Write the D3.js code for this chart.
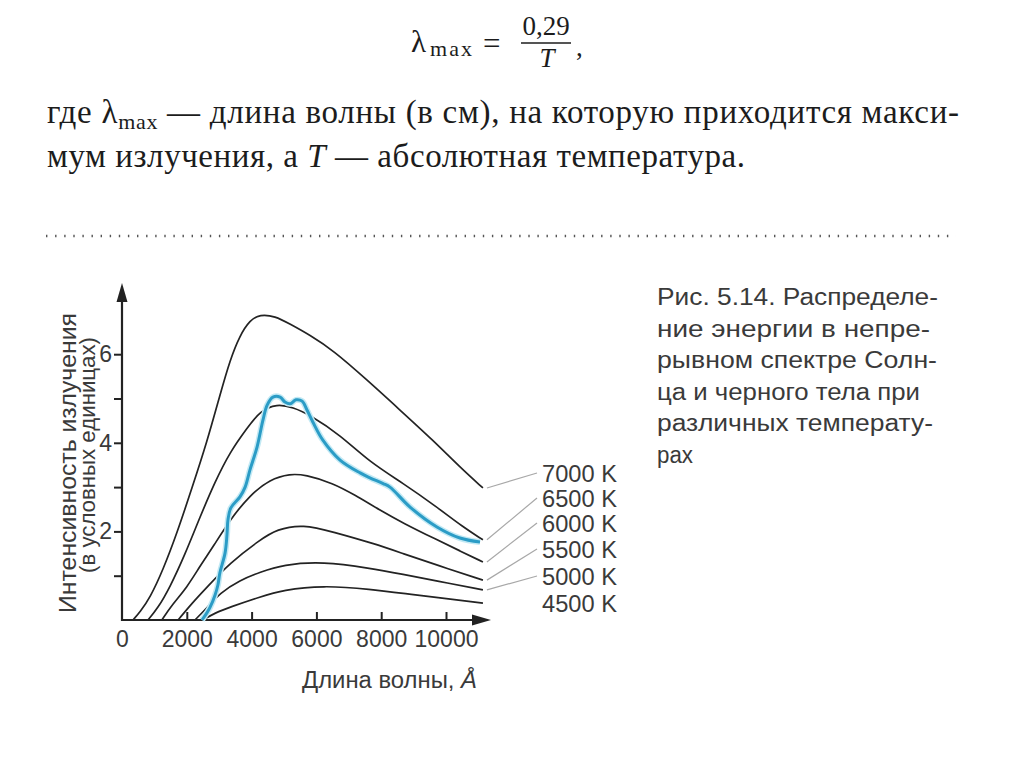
<!DOCTYPE html>
<html>
<head>
<meta charset="utf-8">
<script src="https://cdn.jsdelivr.net/npm/d3@7"></script>
<style>
body { margin: 0; background: #fff; }
svg { display: block; }
.serif { font-family: "Liberation Serif", "Times New Roman", serif; fill: #1c1c1c; }
.sans { font-family: "Liberation Sans", Arial, sans-serif; fill: #3a3a3a; }
</style>
</head>
<body>
<svg id="page" width="1024" height="767"></svg>
<script>
// --- данные (длина волны в Å, интенсивность в усл. ед.)
const temps = ["7000 K", "6500 K", "6000 K", "5500 K", "5000 K", "4500 K"];

const t7000 = [[340,0],[555,0.18],[864,0.5],[1265,1.13],[1697,1.96],[2160,2.98],[2623,4.02],[3024,5.08],
  [3333,5.87],[3641,6.43],[3950,6.77],[4259,6.9],[4722,6.86],[5185,6.68],[5802,6.43],[6512,6.09],
  [7561,5.42],[8579,4.74],[9597,4.06],[10430,3.45],[11140,2.98]];
const t6500 = [[800,0],[1110,0.27],[1480,0.74],[1940,1.47],[2410,2.33],[2870,3.12],[3330,3.79],[3860,4.33],
  [4260,4.72],[4780,4.88],[5280,4.8],[5800,4.63],[6730,4.18],[7650,3.56],[8670,3.09],[9720,2.55],
  [10520,2.1],[11140,1.81]];
const t6000 = [[1230,0],[1540,0.34],[2010,0.74],[2410,1.22],[2810,1.65],[3330,2.26],[3950,2.82],[4570,3.18],
  [5190,3.3],[5650,3.28],[6510,3.09],[7190,2.82],[7960,2.48],[8670,2.19],[9720,1.81],[10430,1.56],[11140,1.31]];
const t5500 = [[1730,0],[2160,0.38],[2620,0.74],[3330,1.29],[4260,1.81],[4780,2.05],[5590,2.16],[6510,1.99],
  [7800,1.72],[8670,1.5],[9720,1.24],[11140,0.9]];
const t5000 = [[2250,0],[2620,0.27],[3020,0.61],[3640,0.9],[4260,1.08],[4970,1.25],[6200,1.32],[7650,1.17],
  [8670,1.03],[9720,0.88],[11140,0.68]];
const t4500 = [[2500,0],[2870,0.16],[3330,0.29],[4260,0.52],[4970,0.68],[6200,0.78],[7650,0.7],[8890,0.58],[11140,0.38]];

// спектр Солнца (голубая кривая)
const sun = [[2470,0],[2620,0.16],[2720,0.29],[2870,0.56],[2960,0.79],[3020,1.06],[3180,1.51],[3240,1.92],
  [3270,2.26],[3360,2.53],[3640,2.78],[3800,3.0],[3950,3.39],[4170,3.91],[4350,4.51],[4480,4.85],[4660,5.03],
  [4880,5.03],[5030,4.92],[5190,4.88],[5370,4.97],[5560,4.94],[5710,4.74],[5890,4.47],[6200,4.06],[6730,3.61],
  [7350,3.32],[7650,3.21],[8060,3.08],[8270,3.0],[8890,2.55],[9720,2.1],[10430,1.85],[11050,1.76]];

const curves = [t7000, t6500, t6000, t5500, t5000, t4500];

const xTicks = [0, 2000, 4000, 6000, 8000, 10000];
const yTicks = [1, 2, 3, 4, 5, 6];

const captionLines = ["Рис. 5.14. Распределе-", "ние энергии в непре-", "рывном спектре Солн-",
  "ца и черного тела при", "различных температу-", "рах"];

let svg = d3.select("#page");

// ---------------- текст над рисунком
svg.append("text").attr("class", "serif").attr("x", 411).attr("y", 52)
  .style("font-size", "31px").text("λ");
svg.append("text").attr("class", "serif").attr("x", 430).attr("y", 56)
  .style("font-size", "22px").attr("textLength", 42).text("max");
svg.append("text").attr("class", "serif").attr("x", 483).attr("y", 54)
  .style("font-size", "31px").text("=");
svg.append("text").attr("class", "serif").attr("x", 546).attr("y", 35)
  .attr("text-anchor", "middle").style("font-size", "27px").text("0,29");
svg.append("line").attr("x1", 521).attr("x2", 571).attr("y1", 43).attr("y2", 43)
  .attr("stroke", "#1c1c1c").attr("stroke-width", 1.4);
svg.append("text").attr("class", "serif").attr("x", 547).attr("y", 67)
  .attr("text-anchor", "middle").style("font-size", "27px").style("font-style", "italic").text("T");
svg.append("text").attr("class", "serif").attr("x", 576).attr("y", 56)
  .style("font-size", "27px").text(",");

let line1 = svg.append("text").attr("class", "serif").attr("x", 47).attr("y", 123)
  .style("font-size", "33px").attr("textLength", 912).attr("lengthAdjust", "spacing");
line1.append("tspan").text("где λ");
line1.append("tspan").attr("dy", 6).style("font-size", "22px").text("max");
line1.append("tspan").attr("dy", -6).text(" — длина волны (в см), на которую приходится макси-");

let line2 = svg.append("text").attr("class", "serif").attr("x", 47).attr("y", 167)
  .style("font-size", "33px").attr("textLength", 698).attr("lengthAdjust", "spacing");
line2.append("tspan").text("мум излучения, а ");
line2.append("tspan").style("font-style", "italic").text("T");
line2.append("tspan").text(" — абсолютная температура.");

// пунктир
svg.append("line").attr("x1", 46).attr("x2", 956).attr("y1", 236).attr("y2", 236)
  .attr("stroke", "#555").attr("stroke-width", 2.4).attr("stroke-dasharray", "1.4,7.7");

// ---------------- график
let x = d3.scaleLinear().domain([0, 10000]).range([122, 446]);
let y = d3.scaleLinear().domain([0, 6]).range([620, 354.2]);

let xAxis = d3.axisBottom(x).tickValues(xTicks).tickSize(-8).tickPadding(11)
  .tickFormat(d => d);
let yAxis = d3.axisLeft(y).tickValues(yTicks).tickSize(8).tickPadding(4)
  .tickFormat(d => d % 2 === 0 ? d : "");

let gx = svg.append("g").attr("transform", "translate(0,620)").call(xAxis);
let gy = svg.append("g").attr("transform", "translate(122,0)").call(yAxis);

[gx, gy].forEach(g => {
  g.select(".domain").remove();
  g.selectAll(".tick line").attr("stroke", "#222").attr("stroke-width", 2);
  g.selectAll(".tick text").style("font-size", "23px")
    .style("font-family", "'Liberation Sans', Arial, sans-serif").attr("fill", "#3a3a3a");
});
gy.selectAll(".tick text").attr("x", -10).attr("text-anchor", "end");
gx.selectAll(".tick").filter(d => d === 0).select("line").remove();

// оси со стрелками
svg.append("line").attr("x1", 122).attr("x2", 474).attr("y1", 620).attr("y2", 620)
  .attr("stroke", "#222").attr("stroke-width", 2.2);
svg.append("path").attr("d", "M491,620 L472,614.5 L472,625.5 Z").attr("fill", "#222");
svg.append("line").attr("x1", 122).attr("x2", 122).attr("y1", 621).attr("y2", 300)
  .attr("stroke", "#222").attr("stroke-width", 2.2);
svg.append("path").attr("d", "M122,283 L116.5,302 L127.5,302 Z").attr("fill", "#222");

let blackLine = d3.line()
  .x(d => x(d[0]))
  .y(d => y(d[1]))
  .curve(d3.curveBasis);

let sunLine = d3.line()
  .x(d => x(d[0]))
  .y(d => y(d[1]))
  .curve(d3.curveCatmullRom.alpha(0.5));

// кривые черного тела
svg.append("g").selectAll("path")
  .data(curves)
  .enter()
  .append("path")
  .attr("d", blackLine)
  .attr("fill", "none")
  .attr("stroke", "#232323")
  .attr("stroke-width", 1.7);

// Солнце: светлый ореол + линия
svg.append("path").datum(sun).attr("d", sunLine)
  .attr("fill", "none").attr("stroke", "#c2e9f4").attr("stroke-width", 6)
  .attr("stroke-linejoin", "round");
svg.append("path").datum(sun).attr("d", sunLine)
  .attr("fill", "none").attr("stroke", "#2b9cc6").attr("stroke-width", 3)
  .attr("stroke-linejoin", "round");

// подписи температур и выноски
let labelBase = [482, 507, 532, 558, 585, 612];
curves.forEach(function(c, i) {
  let last = c[c.length - 1];
  if (i < 5) {
    svg.append("line")
      .attr("x1", x(last[0]) + 4).attr("y1", y(last[1]))
      .attr("x2", 537).attr("y2", labelBase[i] - 9)
      .attr("stroke", "#a8a8a8").attr("stroke-width", 1.2);
  }
  svg.append("text").attr("class", "sans")
    .attr("x", 542).attr("y", labelBase[i])
    .style("font-size", "24px").attr("textLength", 75).attr("lengthAdjust", "spacingAndGlyphs")
    .text(temps[i]);
});

// подписи осей
svg.append("text").attr("class", "sans")
  .attr("transform", "translate(76,463) rotate(-90)")
  .attr("text-anchor", "middle").style("font-size", "23px")
  .attr("textLength", 300).attr("lengthAdjust", "spacingAndGlyphs")
  .text("Интенсивность излучения");
svg.append("text").attr("class", "sans")
  .attr("transform", "translate(95,455) rotate(-90)")
  .attr("text-anchor", "middle").style("font-size", "22px")
  .attr("textLength", 236).attr("lengthAdjust", "spacingAndGlyphs")
  .text("(в условных единицах)");

let xt = svg.append("text").attr("class", "sans").attr("x", 302).attr("y", 688)
  .style("font-size", "23px").attr("textLength", 175).attr("lengthAdjust", "spacingAndGlyphs");
xt.append("tspan").text("Длина волны, ");
xt.append("tspan").style("font-style", "italic").text("Å");

// подпись к рисунку
let capWidths = [281, 273, 280, 263, 276, 36];
captionLines.forEach(function(t, i) {
  svg.append("text").attr("class", "sans")
    .attr("x", 657).attr("y", 305 + i * 31.6)
    .style("font-size", "23px")
    .attr("textLength", capWidths[i]).attr("lengthAdjust", "spacingAndGlyphs")
    .text(t);
});
</script>
</body>
</html>
